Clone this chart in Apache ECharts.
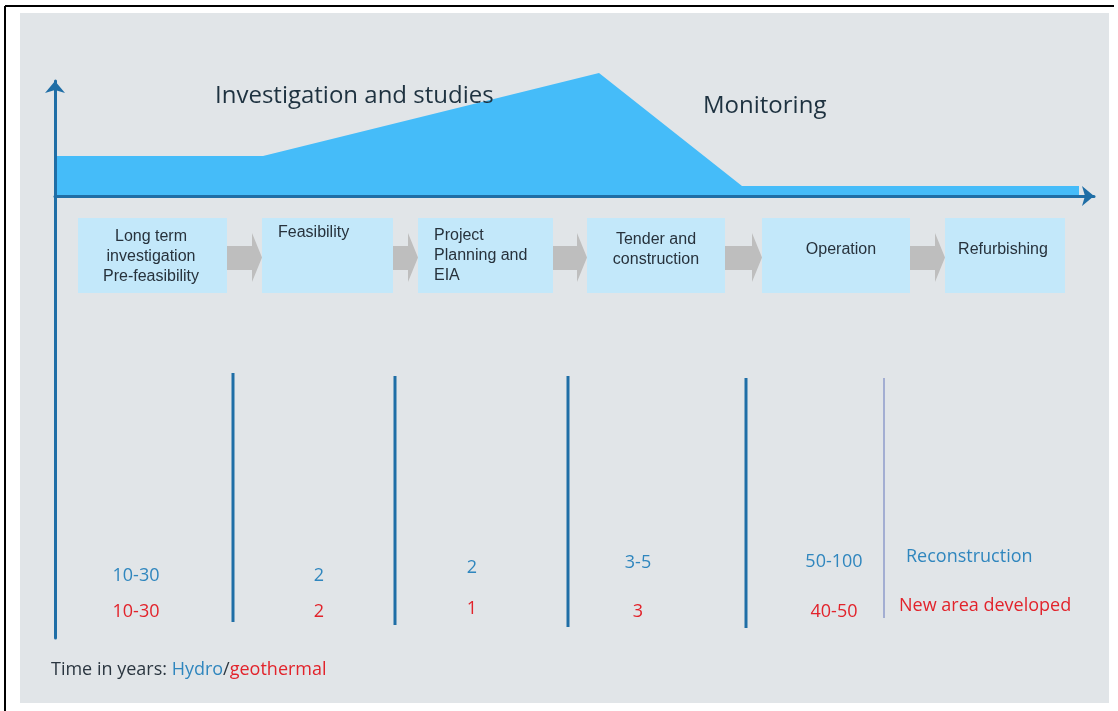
<!DOCTYPE html>
<html>
<head>
<meta charset="utf-8">
<script src="https://cdn.jsdelivr.net/npm/echarts@6/dist/echarts.min.js"></script>
<style>html,body{margin:0;padding:0;background:#fff}#c{width:1118px;height:711px}</style>
</head>
<body>
<div id="c"></div>
<script>
// ---- data ----
const stages = ['Long term\ninvestigation\nPre-feasibility', 'Feasibility', 'Project\nPlanning and\nEIA', 'Tender and\nconstruction', 'Operation', 'Refurbishing'];
const effortX = [0, 208, 544, 687, 1024];
const effortLevel = [40, 40, 123, 10, 10];
const hydroYears = ['10-30', '2', '2', '3-5', '50-100'];
const geoYears = ['10-30', '2', '1', '3', '40-50'];
const refurbNotes = ['Reconstruction', 'New area developed'];
const phaseTitles = ['Investigation and studies', 'Monitoring'];
const footnote = ['Time in years: ', 'Hydro', '/', 'geothermal'];

// ---- layout (timeline units, y = 0 at the time axis) ----
const BOX = [[23, 172], [207, 338], [363, 498], [532, 670], [707, 855], [890, 1010]];
const BOX_TOP = -22, BOX_BOTTOM = -97;
const BOX_TEXT = [
  { x: 96, y: -61, align: 'center' }, { x: 223, y: -37, align: 'left' }, { x: 379, y: -60, align: 'left' },
  { x: 601, y: -53.5, align: 'center' }, { x: 786, y: -54, align: 'center' }, { x: 948, y: -54, align: 'center' }
];
const DIVIDERS = [
  { x: 178, top: -177, bottom: -426, w: 3, c: '#1F6EA6' },
  { x: 340, top: -180, bottom: -429, w: 3, c: '#1F6EA6' },
  { x: 513, top: -180, bottom: -431, w: 3, c: '#1F6EA6' },
  { x: 691, top: -182, bottom: -432, w: 3, c: '#1F6EA6' },
  { x: 829, top: -182, bottom: -422, w: 1.5, c: '#8E9BCB' }
];
const NUM_X = [81, 264, 417, 583, 779];
const HYDRO_Y = [-380, -380, -372, -367, -366];
const GEO_Y = [-416, -416, -413, -416, -416];
const NOTE_POS = [{ x: 851, y: -361 }, { x: 844, y: -410 }];

const BLUE = '#2F86BE', RED = '#E2232B', AXIS = '#1F6EA6';
const chart = echarts.init(document.getElementById('c'), null, { renderer: 'canvas' });

chart.setOption({
  backgroundColor: '#ffffff',
  animation: false,
  grid: { left: 55, right: 24, top: 81, bottom: 73, containLabel: false },
  xAxis: {
    type: 'value', min: 0, max: 1039, z: 10,
    axisLine: { show: true, onZero: true, symbol: ['none', 'arrow'], symbolSize: [15, 12], lineStyle: { color: AXIS, width: 3 } },
    axisTick: { show: false }, axisLabel: { show: false }, splitLine: { show: false }
  },
  yAxis: {
    type: 'value', min: -442, max: 115, z: 10,
    axisLine: { show: true, onZero: false, symbol: ['none', 'arrow'], symbolSize: [15, 12], lineStyle: { color: AXIS, width: 3 } },
    axisTick: { show: false }, axisLabel: { show: false }, splitLine: { show: false }
  },
  graphic: [
    { type: 'rect', z: -100, shape: { x: 20, y: 13, width: 1089, height: 690 }, style: { fill: '#E1E5E8' } },
    { type: 'line', z: -90, shape: { x1: 5, y1: 6, x2: 1114, y2: 6 }, style: { stroke: '#000', lineWidth: 2 } },
    { type: 'line', z: -90, shape: { x1: 5, y1: 6, x2: 5, y2: 711 }, style: { stroke: '#000', lineWidth: 2 } },
    { type: 'text', z: 50, x: 215, y: 96, style: { text: phaseTitles[0], font: '24px "Open Sans"', fill: '#1E3240', textVerticalAlign: 'middle' } },
    { type: 'text', z: 50, x: 703, y: 106, style: { text: phaseTitles[1], font: '24px "Open Sans"', fill: '#1E3240', textVerticalAlign: 'middle' } },
    { type: 'text', z: 50, x: 51, y: 670, style: {
      text: '{a|' + footnote[0] + '}{b|' + footnote[1] + '}{a|' + footnote[2] + '}{c|' + footnote[3] + '}',
      verticalAlign: 'middle',
      font: '18px "Open Sans"',
      rich: {
        a: { fontFamily: 'Open Sans', fontSize: 18, fill: '#2B3640' },
        b: { fontFamily: 'Open Sans', fontSize: 18, fill: BLUE },
        c: { fontFamily: 'Open Sans', fontSize: 18, fill: RED }
      } } }
  ],
  series: [
    {
      type: 'line', z: 2, clip: false, symbol: 'none',
      data: effortX.map((x, i) => [x, effortLevel[i]]),
      lineStyle: { width: 0 },
      areaStyle: { color: '#45BCF9', opacity: 1 }
    },
    {
      // process arrows between boxes
      type: 'custom', z: 3, clip: false,
      data: stages.slice(0, -1).map((s, i) => [i]),
      renderItem: function (params, api) {
        const i = api.value(0);
        const x0 = BOX[i][1], tip = BOX[i + 1][0], hs = tip - 10;
        const pts = [[x0, -50], [hs, -50], [hs, -37], [tip, -61.5], [hs, -86], [hs, -74], [x0, -74]].map(p => api.coord(p));
        return { type: 'polygon', shape: { points: pts }, style: { fill: '#BEBEBE' } };
      }
    },
    {
      // stage boxes
      type: 'custom', z: 4, clip: false,
      data: stages.map((s, i) => [i]),
      renderItem: function (params, api) {
        const i = api.value(0);
        const p1 = api.coord([BOX[i][0], BOX_TOP]);
        const p2 = api.coord([BOX[i][1], BOX_BOTTOM]);
        const t = api.coord([BOX_TEXT[i].x, BOX_TEXT[i].y]);
        return {
          type: 'group', children: [
            { type: 'rect', shape: { x: p1[0], y: p1[1], width: p2[0] - p1[0], height: p2[1] - p1[1] }, style: { fill: '#C3E8FA' } },
            { type: 'text', x: t[0], y: t[1], style: { text: stages[i], font: '16px "Liberation Sans"', fill: '#27323C', align: BOX_TEXT[i].align, verticalAlign: 'middle', lineHeight: 20 } }
          ]
        };
      }
    },
    {
      // stage dividers
      type: 'custom', z: 4, clip: false,
      data: DIVIDERS.map((d, i) => [i]),
      renderItem: function (params, api) {
        const d = DIVIDERS[api.value(0)];
        const a = api.coord([d.x, d.top]), b = api.coord([d.x, d.bottom]);
        return { type: 'line', shape: { x1: a[0], y1: a[1], x2: b[0], y2: b[1] }, style: { stroke: d.c, lineWidth: d.w } };
      }
    },
    {
      // durations
      type: 'custom', z: 5, clip: false,
      data: hydroYears.map((h, i) => [i]),
      renderItem: function (params, api) {
        const i = api.value(0);
        const a = api.coord([NUM_X[i], HYDRO_Y[i]]), b = api.coord([NUM_X[i], GEO_Y[i]]);
        return {
          type: 'group', children: [
            { type: 'text', x: a[0], y: a[1], style: { text: hydroYears[i], font: '18px "Open Sans"', fill: BLUE, align: 'center', verticalAlign: 'middle' } },
            { type: 'text', x: b[0], y: b[1], style: { text: geoYears[i], font: '18px "Open Sans"', fill: RED, align: 'center', verticalAlign: 'middle' } }
          ]
        };
      }
    },
    {
      // refurbishing notes
      type: 'custom', z: 5, clip: false,
      data: refurbNotes.map((n, i) => [i]),
      renderItem: function (params, api) {
        const i = api.value(0);
        const a = api.coord([NOTE_POS[i].x, NOTE_POS[i].y]);
        return { type: 'text', x: a[0], y: a[1], style: { text: refurbNotes[i], font: '18px "Open Sans"', fill: i === 0 ? BLUE : RED, align: 'left', verticalAlign: 'middle' } };
      }
    }
  ]
});
</script>
</body>
</html>
